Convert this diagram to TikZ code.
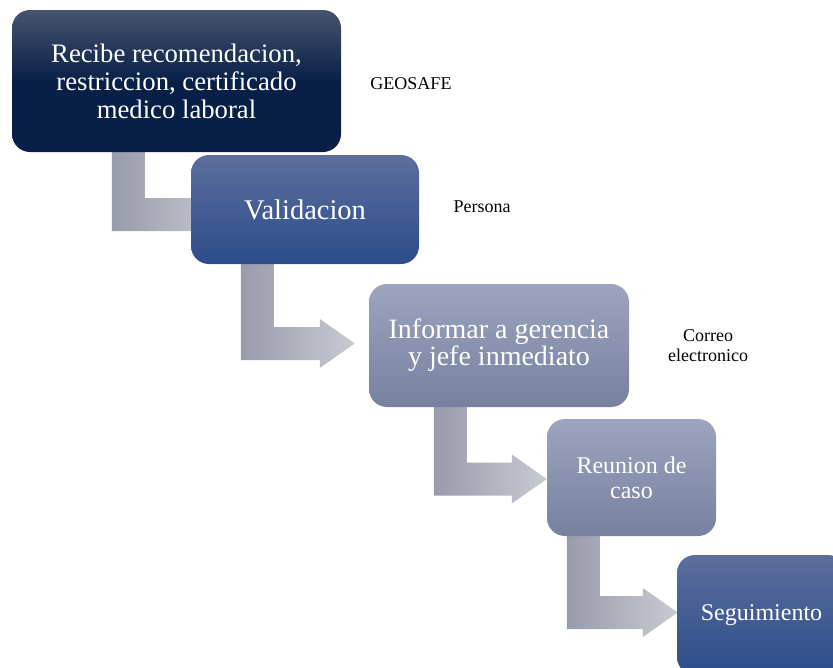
\documentclass[tikz,border=0pt]{standalone}
\usepackage{fontspec}
\setmainfont{Liberation Serif}
\usetikzlibrary{calc}
\usetikzlibrary{backgrounds}
\definecolor{navytop}{RGB}{72,84,110}
\definecolor{navybot}{RGB}{8,32,72}
\definecolor{bluetop}{RGB}{92,110,157}
\definecolor{bluebot}{RGB}{44,76,138}
\definecolor{greytop}{RGB}{156,164,190}
\definecolor{greybot}{RGB}{119,128,160}
\definecolor{arrowdark}{RGB}{152,155,170}
\definecolor{arrowlight}{RGB}{201,202,210}
\tikzset{flowbox/.style={rounded corners=18pt, inner sep=0pt, align=center, text=white},
  navybox/.style={flowbox, top color=navytop, bottom color=navybot, middle color=navybot},
  bluebox/.style={flowbox, top color=bluetop, bottom color=bluebot},
  greybox/.style={flowbox, top color=greytop, bottom color=greybot},
  note/.style={align=center, font=\fontsize{18}{20}\selectfont},
  arrowshade/.style={left color=arrowdark, right color=arrowlight}}
\newcommand{\bentarrow}[2]{%
  \path[arrowshade] let \p1=#1, \p2=#2 in
    (\x1,\y1+2pt) -- (\x1+33pt,\y1+2pt) -- (\x1+33pt,\y2+16.5pt) -- (\x2-35pt,\y2+16.5pt)
    -- (\x2-35pt,\y2+24.5pt) -- (\x2,\y2) -- (\x2-35pt,\y2-24.5pt) -- (\x2-35pt,\y2-16.5pt)
    -- (\x1,\y2-16.5pt) -- cycle;}

\begin{document}
\begin{tikzpicture}[x=1pt,y=-1pt]
	\useasboundingbox (0,0) rectangle (833,667);
	\clip (0,0) rectangle (833,667);
	\node[navybox, minimum width=329, minimum height=142, font=\fontsize{26.7}{28}\selectfont] (recibe) at (176.5,81) {Recibe recomendacion,\\ restriccion, certificado\\ medico laboral};
	\node[bluebox, minimum width=228, minimum height=109, font=\fontsize{28.5}{30}\selectfont] (validacion) at (305,209.5) {Validacion};
	\node[greybox, minimum width=260, minimum height=123, font=\fontsize{28}{27}\selectfont] (informar) at (499,345.5) {Informar a gerencia\\ y jefe inmediato};
	\node[greybox, minimum width=169, minimum height=117, font=\fontsize{24}{25}\selectfont] (reunion) at (631.5,477.5) {Reunion de\\ caso};
	\node[bluebox, minimum width=169, minimum height=120, font=\fontsize{24}{28}\selectfont] (seguimiento) at (761.5,615) {Seguimiento};
	\node[note] (geosafe) at (411,84) {GEOSAFE};
	\node[note] (persona) at (482,207) {Persona};
	\node[note] (correo) at (708,346) {Correo\\ electronico};
	\begin{scope}[on background layer]
		\bentarrow{($(recibe.south west)+(100,0)$)}{($(validacion.west)+(40,5)$)}
		\bentarrow{($(validacion.south west)+(50,0)$)}{($(informar.west)+(-14,-2)$)}
		\bentarrow{($(informar.south west)+(65,0)$)}{($(reunion.west)+(0,1.5)$)}
		\bentarrow{($(reunion.south west)+(20,0)$)}{($(seguimiento.west)+(1,-2.5)$)}
	\end{scope}
\end{tikzpicture}
\end{document}
